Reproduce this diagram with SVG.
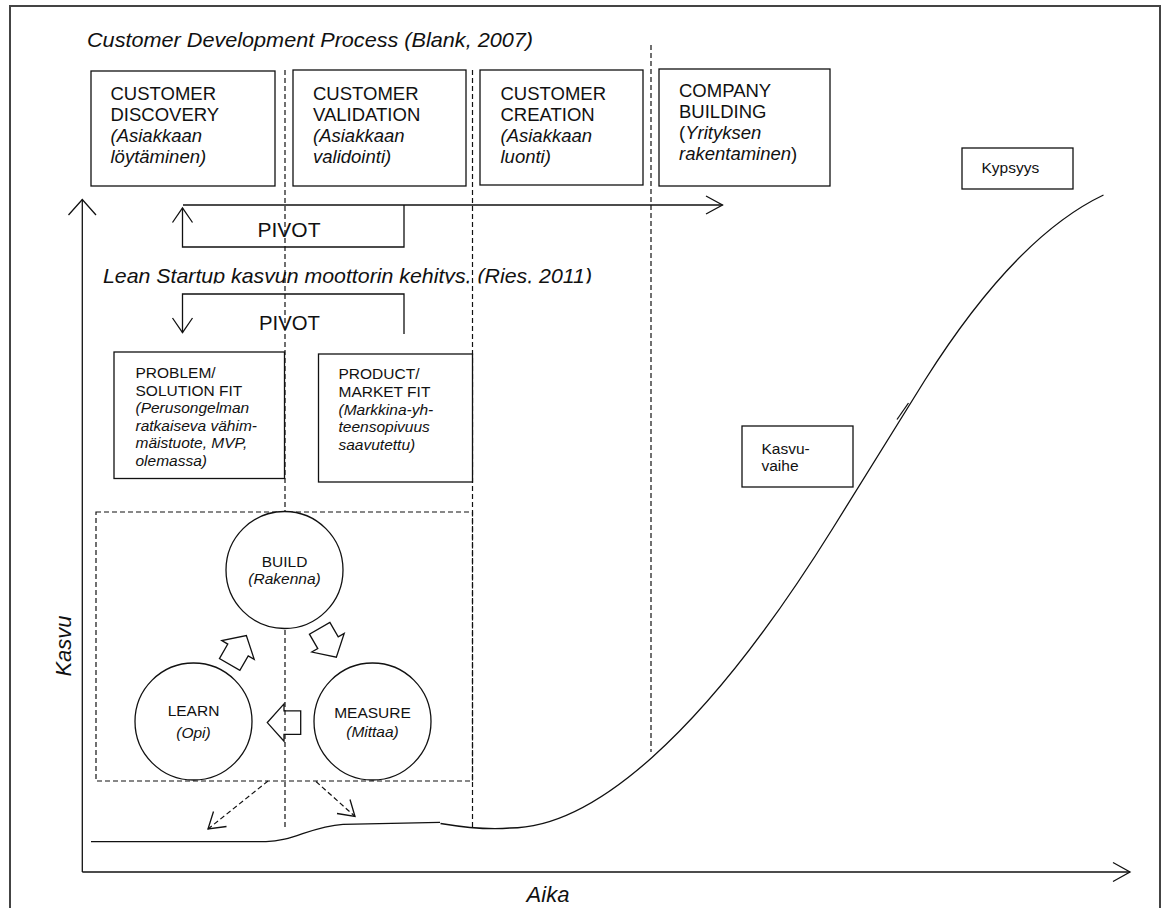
<svg xmlns="http://www.w3.org/2000/svg" width="1163" height="908" viewBox="0 0 1163 908">
  <defs>
    <style>
      .t { font-family: "Liberation Sans", Arial, sans-serif; fill: #111; }
      .i { font-style: italic; }
      .box { fill: #fff; stroke: #111; stroke-width: 1.3; }
      .ln { fill: none; stroke: #111; stroke-width: 1.3; }
      .dash { fill: none; stroke: #111; stroke-width: 1.2; stroke-dasharray: 5 3; }
      .circ { fill: #fff; stroke: #111; stroke-width: 1.3; }
      .blk { fill: none; stroke: #111; stroke-width: 1.3; stroke-linejoin: miter; }
    </style>
    <clipPath id="clipLean">
      <rect x="90" y="250" width="520" height="33.5"/>
    </clipPath>
    <!-- hollow block arrow pointing along +x, centred on the origin -->
    <polygon id="blockArrow" points="-16.7,-11.8 0,-11.8 0,-18.7 16.7,0 0,18.7 0,11.8 -16.7,11.8"/>
  </defs>

  <rect width="1163" height="908" fill="#fff"/>
  <!-- page frame -->
  <rect x="10" y="6" width="1150" height="915" fill="none" stroke="#444" stroke-width="2"/>

  <!-- phase separators -->
  <g id="separators">
    <line class="dash" x1="285" y1="70" x2="285" y2="829"/>
    <line class="dash" x1="472.5" y1="70" x2="472.5" y2="827"/>
    <line class="dash" x1="651" y1="45" x2="651" y2="752"/>
    <rect class="dash" x="96" y="512" width="376.5" height="269"/>
  </g>

  <!-- headings -->
  <text class="t i" x="87" y="47" font-size="21" textLength="446" lengthAdjust="spacingAndGlyphs">Customer Development Process (Blank, 2007)</text>
  <text class="t i" x="103" y="283" font-size="21" clip-path="url(#clipLean)" textLength="489" lengthAdjust="spacingAndGlyphs">Lean Startup kasvun moottorin kehitys, (Ries, 2011)</text>

  <!-- Customer development stages -->
  <g id="customer-discovery">
    <rect class="box" x="91" y="71" width="184" height="115"/>
    <text class="t" font-size="18.5"><tspan x="110.5" y="100">CUSTOMER</tspan><tspan x="110.5" y="121">DISCOVERY</tspan><tspan class="i" x="110.5" y="142">(Asiakkaan</tspan><tspan class="i" x="110.5" y="163">löytäminen)</tspan></text>
  </g>
  <g id="customer-validation">
    <rect class="box" x="293" y="70" width="173" height="116"/>
    <text class="t" font-size="18.5"><tspan x="313" y="100">CUSTOMER</tspan><tspan x="313" y="121">VALIDATION</tspan><tspan class="i" x="313" y="142">(Asiakkaan</tspan><tspan class="i" x="313" y="163">validointi)</tspan></text>
  </g>
  <g id="customer-creation">
    <rect class="box" x="480" y="70" width="163" height="115"/>
    <text class="t" font-size="18.5"><tspan x="500.5" y="99.5">CUSTOMER</tspan><tspan x="500.5" y="120.5">CREATION</tspan><tspan class="i" x="500.5" y="141.5">(Asiakkaan</tspan><tspan class="i" x="500.5" y="162.5">luonti)</tspan></text>
  </g>
  <g id="company-building">
    <rect class="box" x="659" y="69" width="171" height="117"/>
    <text class="t" font-size="18.5"><tspan x="679" y="97">COMPANY</tspan><tspan x="679" y="118">BUILDING</tspan><tspan x="679" y="139">(<tspan class="i">Yrityksen</tspan></tspan><tspan x="679" y="160"><tspan class="i">rakentaminen</tspan>)</tspan></text>
  </g>

  <!-- Lean startup milestones -->
  <g id="problem-solution-fit">
    <rect class="box" x="114" y="352" width="170.5" height="126.5"/>
    <text class="t" font-size="15.5"><tspan x="135.5" y="378">PROBLEM/</tspan><tspan x="135.5" y="395.5">SOLUTION FIT</tspan><tspan class="i" x="135.5" y="413">(Perusongelman</tspan><tspan class="i" x="135.5" y="430.5">ratkaiseva vähim-</tspan><tspan class="i" x="135.5" y="448">mäistuote, MVP,</tspan><tspan class="i" x="135.5" y="465.5">olemassa)</tspan></text>
  </g>
  <g id="product-market-fit">
    <rect class="box" x="318.5" y="354" width="154" height="128"/>
    <text class="t" font-size="15.5"><tspan x="338.5" y="379">PRODUCT/</tspan><tspan x="338.5" y="397">MARKET FIT</tspan><tspan class="i" x="338.5" y="414.5">(Markkina-yh-</tspan><tspan class="i" x="338.5" y="432">teensopivuus</tspan><tspan class="i" x="338.5" y="449.5">saavutettu)</tspan></text>
  </g>

  <!-- build-measure-learn loop -->
  <g id="build">
    <circle class="circ" cx="284.5" cy="570" r="58.5"/>
    <text class="t" font-size="15.5" text-anchor="middle"><tspan x="284.5" y="566.5">BUILD</tspan><tspan class="i" x="284.5" y="583.5">(Rakenna)</tspan></text>
  </g>
  <g id="learn">
    <circle class="circ" cx="193.5" cy="721.5" r="58.5"/>
    <text class="t" font-size="15.5" text-anchor="middle"><tspan x="193.5" y="716">LEARN</tspan><tspan class="i" x="193.5" y="738">(Opi)</tspan></text>
  </g>
  <g id="measure">
    <circle class="circ" cx="372.5" cy="721.5" r="58.5"/>
    <text class="t" font-size="15.5" text-anchor="middle"><tspan x="372.5" y="717.5">MEASURE</tspan><tspan class="i" x="372.5" y="736.5">(Mittaa)</tspan></text>
  </g>

  <!-- life-cycle stage labels -->
  <g id="kasvuvaihe">
    <rect class="box" x="742" y="426" width="111" height="61"/>
    <text class="t" font-size="15.5"><tspan x="761.5" y="454">Kasvu-</tspan><tspan x="761.5" y="470.5">vaihe</tspan></text>
  </g>
  <g id="kypsyys">
    <rect class="box" x="962" y="148" width="111" height="41"/>
    <text class="t" font-size="15.5" x="981.5" y="173">Kypsyys</text>
  </g>

  <!-- connectors -->
  <g id="connectors">
    <!-- axes -->
    <line class="ln" x1="82.3" y1="199.5" x2="82.3" y2="872"/>
    <polyline class="ln" points="68.5,215 82.3,199.5 96,215"/>
    <line class="ln" x1="82.3" y1="872" x2="1130" y2="872"/>
    <polyline class="ln" points="1113,862.5 1130,872 1113,881.5"/>

    <!-- upper pivot and stage arrow -->
    <line class="ln" x1="183" y1="205" x2="722.5" y2="205"/>
    <polyline class="ln" points="706,196 722.5,205 706,214"/>
    <polyline class="ln" points="182.5,208 182.5,247 404,247 404,205"/>
    <polyline class="ln" points="172.5,222.5 182.5,208 192.5,222.5"/>

    <!-- lower pivot -->
    <polyline class="ln" points="182.5,332.5 182.5,294 404,294 404,334"/>
    <polyline class="ln" points="172.5,318 182.5,332.5 192.5,318"/>

    <!-- loop arrows -->
    <use href="#blockArrow" class="blk" transform="translate(238,650) rotate(-60)"/>
    <use href="#blockArrow" class="blk" transform="translate(328,642.7) rotate(60)"/>
    <use href="#blockArrow" class="blk" transform="translate(284,722.6) rotate(180)"/>

    <!-- dashed outcome arrows -->
    <line class="dash" x1="268" y1="781" x2="208" y2="829"/>
    <polyline class="ln" points="213.5,811.5 208,829 226.5,826.5"/>
    <line class="dash" x1="316" y1="781.5" x2="355" y2="816.5"/>
    <polyline class="ln" points="350,799.5 355,816.5 337,813.5"/>

    <!-- growth curve -->
    <path class="ln" d="M91,841.7 L266,841.7 C292,841.7 312,826 343,824.3 L440,822.3"/>
    <path class="ln" d="M440.5,823.5 C480,830 500,829 510,828 C590,828 701,740 833,528 L925,380 C968,312 1030,230 1103.5,195"/>
    <line class="ln" stroke-width="2.2" x1="897" y1="419.5" x2="908.5" y2="403"/>
  </g>

  <!-- pivot labels -->
  <text class="t" font-size="20" x="257.5" y="236.5" textLength="63" lengthAdjust="spacingAndGlyphs">PIVOT</text>
  <text class="t" font-size="20" x="259" y="330" textLength="61" lengthAdjust="spacingAndGlyphs">PIVOT</text>

  <!-- axis titles -->
  <text class="t i" font-size="22" text-anchor="middle" transform="translate(71,646) rotate(-90)">Kasvu</text>
  <text class="t i" font-size="22" text-anchor="middle" x="548" y="902">Aika</text>
</svg>
